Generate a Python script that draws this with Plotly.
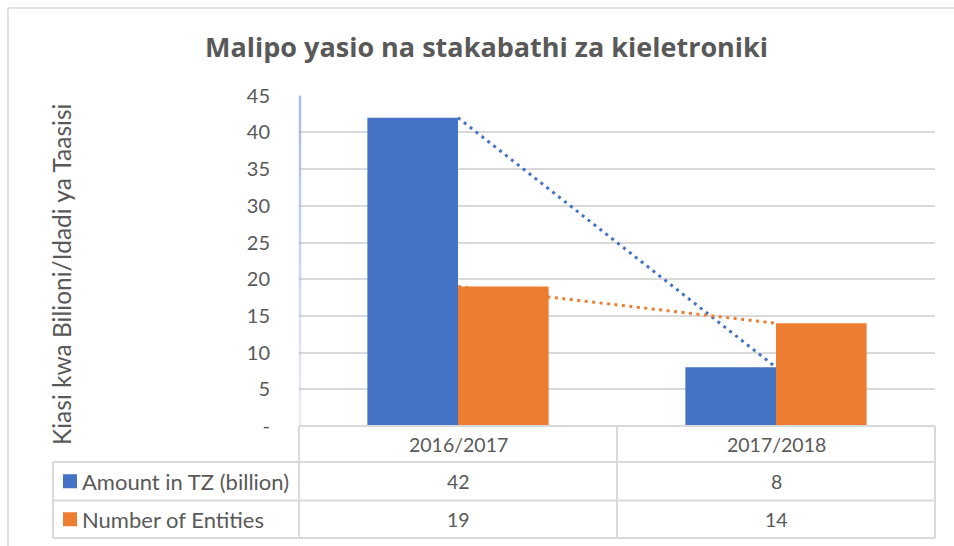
import numpy as np
import plotly.graph_objects as go

categories = ["2016/2017", "2017/2018"]
amount_billion = [42, 8]
num_entities = [19, 14]
series_names = ["Amount in TZ (billion)", "Number of Entities"]
y_tickvals = [0, 5, 10, 15, 20, 25, 30, 35, 40, 45]
y_ticktext = ["-", "5", "10", "15", "20", "25", "30", "35", "40", "45"]

title = "Malipo yasio na stakabathi za kieletroniki"
y_title = "Kiasi kwa Bilioni/Idadi ya Taasisi"

BLUE = "#4472c4"
ORANGE = "#ed7d31"
GRID = "#d9d9d9"
TXT = "#595959"
W, H = 954, 546

def px_x(x):
    return x / W

def px_y(y):
    return 1 - y / H

PL, PR, PT, PB = 299, 935, 95.7, 426

fig = go.Figure()
series = [amount_billion, num_entities]
colors = [BLUE, ORANGE]
for name, vals, c in zip(series_names, series, colors):
    fig.add_trace(go.Bar(x=categories, y=vals, name=name, marker_color=c,
                         marker_line_width=0, showlegend=False))

# linear trendlines
xi = np.arange(len(categories))
for vals, c in zip(series, colors):
    k, b = np.polyfit(xi, vals, 1)
    fig.add_trace(go.Scatter(x=categories, y=list(k * xi + b), mode="lines",
                             line=dict(color=c, width=3, dash="3px,4.5px"),
                             showlegend=False, hoverinfo="skip"))

shapes = []
# outer frame
shapes.append(dict(type="line", xref="paper", yref="paper", x0=px_x(8), x1=px_x(8),
                   y0=px_y(8), y1=px_y(H), line=dict(color=GRID, width=1.5)))
shapes.append(dict(type="line", xref="paper", yref="paper", x0=px_x(8), x1=1,
                   y0=px_y(8), y1=px_y(8), line=dict(color=GRID, width=1.5)))
# y axis line (light blue fading)
nseg = 12
for i in range(nseg):
    t = i / nseg
    y0 = PT + (PB - PT) * t
    y1 = PT + (PB - PT) * (i + 1) / nseg
    op = 0.75 - 0.6 * t
    shapes.append(dict(type="line", xref="paper", yref="paper", x0=px_x(300), x1=px_x(300),
                       y0=px_y(y0), y1=px_y(y1), opacity=op,
                       line=dict(color="#8faadc", width=2.5)))
# table lines
mid = (PL + PR) / 2
rows = [426, 462, 500.5, 538]
shapes.append(dict(type="line", xref="paper", yref="paper", x0=px_x(PL), x1=px_x(PR),
                   y0=px_y(rows[0]), y1=px_y(rows[0]), line=dict(color=GRID, width=2)))
for ry in rows[1:]:
    shapes.append(dict(type="line", xref="paper", yref="paper", x0=px_x(53), x1=px_x(PR),
                       y0=px_y(ry), y1=px_y(ry), line=dict(color=GRID, width=2)))
shapes.append(dict(type="line", xref="paper", yref="paper", x0=px_x(53), x1=px_x(53),
                   y0=px_y(rows[1]), y1=px_y(rows[3]), line=dict(color=GRID, width=2)))
for vx in [PL, mid, PR]:
    shapes.append(dict(type="line", xref="paper", yref="paper", x0=px_x(vx), x1=px_x(vx),
                       y0=px_y(rows[0]), y1=px_y(rows[3]), line=dict(color=GRID, width=2)))
# legend keys
for ri, c in enumerate(colors):
    cy = (rows[ri + 1] + rows[ri + 2]) / 2
    shapes.append(dict(type="rect", xref="paper", yref="paper", x0=px_x(63), x1=px_x(77),
                       y0=px_y(cy - 7), y1=px_y(cy + 7), fillcolor=c, line_width=0))

annotations = []
FAM = "Lato, Open Sans, sans-serif"
num_font = dict(family=FAM, size=19.5, color=TXT)
txt_font = dict(family=FAM, size=22, color=TXT)
annotations.append(dict(text=title, xref="paper", yref="paper", x=px_x(487), y=px_y(46),
                        showarrow=False, xanchor="center", yanchor="middle",
                        font=dict(family="Open Sans, sans-serif", size=27, color=TXT, weight="bold")))
annotations.append(dict(text=y_title, xref="paper", yref="paper", x=px_x(61), y=px_y(275),
                        showarrow=False, textangle=-90, xanchor="center", yanchor="middle",
                        font=dict(family=FAM, size=24.5, color=TXT)))
for cat in categories:
    annotations.append(dict(text=cat, xref="x", yref="paper", x=cat,
                            y=px_y((rows[0] + rows[1]) / 2), showarrow=False,
                            xanchor="center", yanchor="middle", font=num_font))
for ri, (name, vals) in enumerate(zip(series_names, series)):
    cy = (rows[ri + 1] + rows[ri + 2]) / 2
    annotations.append(dict(text=name, xref="paper", yref="paper", x=px_x(80), y=px_y(cy),
                            showarrow=False, xanchor="left", yanchor="middle", font=txt_font))
    for cat, v in zip(categories, vals):
        annotations.append(dict(text=str(v), xref="x", yref="paper", x=cat, y=px_y(cy),
                                showarrow=False, xanchor="center", yanchor="middle", font=num_font))

fig.update_layout(
    width=W, height=H,
    margin=dict(l=0, r=0, t=0, b=0, pad=0, autoexpand=False),
    paper_bgcolor="white", plot_bgcolor="white",
    barmode="group", bargap=0.43, bargroupgap=0,
    shapes=shapes, annotations=annotations,
    xaxis=dict(domain=[px_x(PL), px_x(PR)], showticklabels=False, showgrid=False,
               zeroline=False, showline=False, ticks="", automargin=False),
    yaxis=dict(domain=[px_y(PB), px_y(PT)], range=[0, 45], tickvals=y_tickvals,
               ticktext=y_ticktext, showgrid=True, gridcolor=GRID, gridwidth=1.5,
               zeroline=False, showline=False, ticks="outside", ticklen=24,
               tickcolor="rgba(0,0,0,0)", automargin=False,
               tickfont=dict(family=FAM, size=20, color=TXT)),
)

fig.write_html("out.html", config={"displayModeBar": False},
               post_script="document.body.style.margin='0';document.body.style.overflow='hidden';")
